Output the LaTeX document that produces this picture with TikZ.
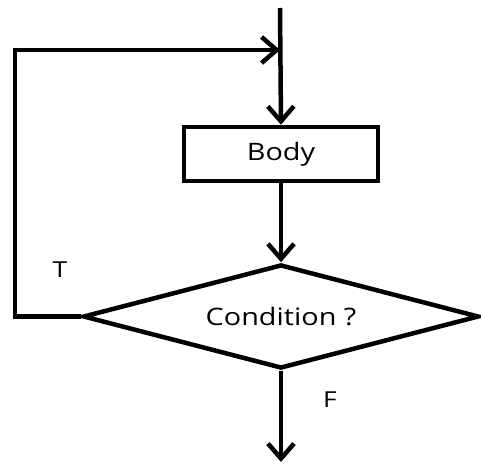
\documentclass[tikz,border=0pt]{standalone}
\usepackage{fontspec}
\setmainfont{Open Sans}[FakeStretch=1.2]
\usetikzlibrary{positioning, arrows.meta, shapes.geometric}

\begin{document}
\begin{tikzpicture}[
    x=1pt, y=1pt,
    node distance=79pt,
    line width=4.5pt,
    block/.style={rectangle, draw, minimum width=194pt, minimum height=54pt, font=\fontsize{24}{28}\selectfont},
    decision/.style={diamond, draw, aspect=3.8, minimum width=396pt, minimum height=104pt, inner sep=0pt, font=\fontsize{24}{28}\selectfont},
    lbl/.style={font=\fontsize{22}{26}\selectfont},
    arrow/.style={-{Straight Barb[length=15pt, width=26pt]}}
]
    \useasboundingbox (0,0) rectangle (481,469);

    % Khoi chinh xep theo chieu doc
    \coordinate (start) at (280,461);
    \node [block] (body) at (281,315) {Body};
    \node [decision, below=of body] (cond) {Condition ?};
    \coordinate (join) at (280,419);
    \coordinate (stop) at (281,7);

    % Mui ten tu tren xuong
    \draw [arrow] (start) -- (body.north);
    \draw [arrow] (body) -- (cond);
    \draw [arrow] (cond.south) -- (stop);

    % Vong lap quay lai
    \draw [arrow] (cond.west) -- ++(-66,0) |- (join);

    \node [lbl] (tlabel) at (60,199) {T};
    \node [lbl] (flabel) at (330,69) {F};
\end{tikzpicture}
\end{document}
